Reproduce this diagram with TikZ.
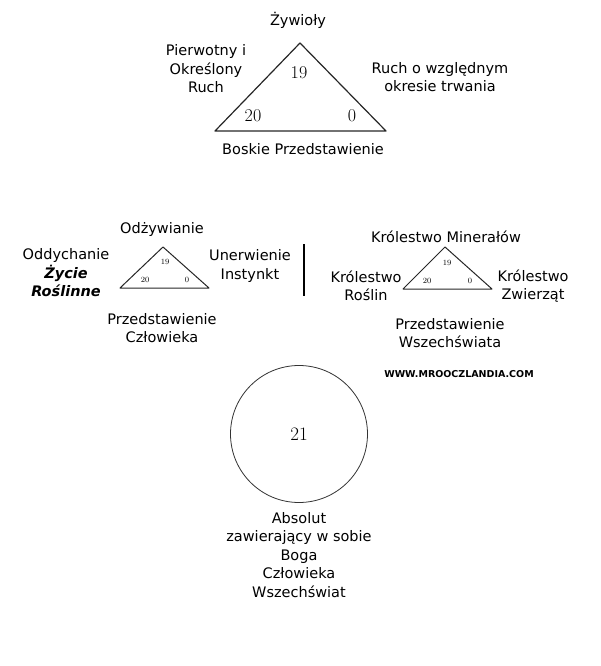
\documentclass[tikz,border=0pt]{standalone}
\usepackage{fontspec}
\setsansfont{DejaVu Sans}
\usepackage{tikz}
\usetikzlibrary{positioning, calc}
\tikzset{
	label/.style={font=\sffamily\fontsize{14.5}{18.5}\selectfont, align=center, inner sep=0pt},
	bignum/.style={font=\fontsize{18}{18}\selectfont, inner sep=0pt},
	smallnum/.style={font=\fontsize{8}{8}\selectfont, inner sep=0pt},
	tri/.style={draw=black!85, line width=1.2pt, line join=round},
	webmark/.style={font=\sffamily\bfseries\fontsize{9.5}{9.5}\selectfont, inner sep=0pt}
}

\begin{document}
\begin{tikzpicture}[x=1pt, y=-1pt]
	\useasboundingbox (0,0) rectangle (600,666);

	% Trojkat gorny
	\coordinate (bigtop) at (300,43);
	\coordinate (bigleft) at (215,131);
	\coordinate (bigright) at (386,131);
	\draw [tri] (bigtop) -- (bigleft) -- (bigright) -- cycle;
	\node (bigA) [bignum] at (299,73) {19};
	\node (bigB) [bignum] at (253,116) {20};
	\node (bigC) [bignum] at (352,116) {0};
	\node (zywioly) [label] at (298,20) {Żywioły};
	\node (pierwotny) [label] at (206,69) {Pierwotny i\\Określony\\Ruch};
	\node (ruch) [label] at (440,77) {Ruch o względnym\\okresie trwania};
	\node (boskie) [label] at (303,149) {Boskie Przedstawienie};

	% Trojkat czlowieka
	\coordinate (mantop) at (163,247);
	\coordinate (manleft) at (120,288);
	\coordinate (manright) at (209,288);
	\draw [tri, line width=1pt] (mantop) -- (manleft) -- (manright) -- cycle;
	\node (manA) [smallnum] at (165,262) {19};
	\node (manB) [smallnum] at (145,280) {20};
	\node (manC) [smallnum] at (187,280) {0};
	\node (odzywianie) [label] at (162,229) {Odżywianie};
	\node (oddychanie) [label] at (66,273) {Oddychanie\\\textbf{\textit{Życie}}\\\textbf{\textit{Roślinne}}};
	\node (unerwienie) [label] at (250,266) {Unerwienie\\Instynkt};
	\node (czlowiek) [label] at (162,328) {Przedstawienie\\Człowieka};
	\coordinate (sepA) at (304,244);
	\coordinate (sepB) at (304,296);
	\draw [line width=1.2pt] (sepA) -- (sepB);

	% Trojkat wszechswiata
	\coordinate (unitop) at (445,247);
	\coordinate (unileft) at (403,289);
	\coordinate (uniright) at (492,289);
	\draw [tri, line width=1pt] (unitop) -- (unileft) -- (uniright) -- cycle;
	\node (uniA) [smallnum] at (447,263) {19};
	\node (uniB) [smallnum] at (427,281) {20};
	\node (uniC) [smallnum] at (470,281) {0};
	\node (mineraly) [label] at (446,237) {Królestwo Minerałów};
	\node (rosliny) [label] at (366,286) {Królestwo\\Roślin};
	\node (zwierzeta) [label] at (533,286) {Królestwo\\Zwierząt};
	\node (wszechswiat) [label] at (450,333) {Przedstawienie\\Wszechświata};
	\node (www) [webmark] at (459,374) {WWW.MROOCZLANDIA.COM};

	% Absolut
	\node (absolut) [circle, draw=black!80, line width=0.8pt, minimum size=137pt, inner sep=0pt, font=\fontsize{19}{19}\selectfont] at (299,434) {21};
	\node (opis) [label, below=9pt of absolut] {Absolut\\zawierający w sobie\\Boga\\Człowieka\\Wszechświat};
\end{tikzpicture}
\end{document}
